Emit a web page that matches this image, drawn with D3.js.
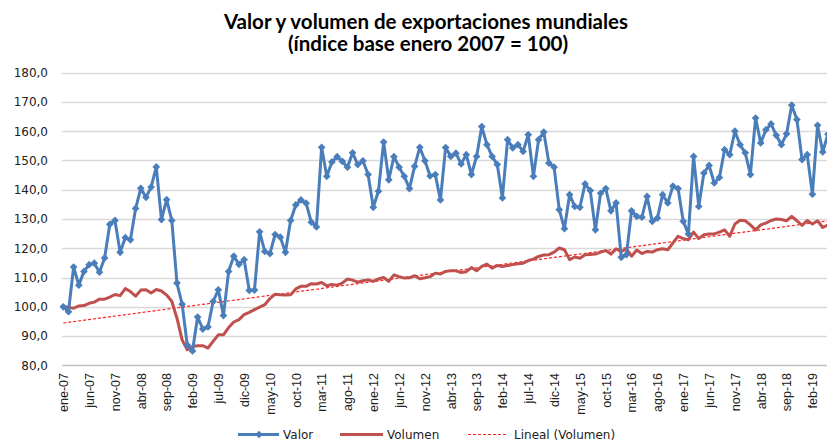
<!DOCTYPE html>
<html>
<head>
<meta charset="utf-8">
<script src="https://cdn.jsdelivr.net/npm/d3@7"></script>
<style>
  body { margin: 0; background: #fff; }
  svg { display: block; }
</style>
</head>
<body>
<div id="chart"></div>
<script>
// months in spanish, used to build the category labels ene-07 ... may-19
const monthNames = ["ene", "feb", "mar", "abr", "may", "jun", "jul", "ago", "sep", "oct", "nov", "dic"];

const valor = [
  100.0, 98.3, 113.6, 107.4, 112.1, 114.4, 114.9, 111.8, 116.7, 128.2, 129.5, 118.6,
  123.6, 122.9, 133.6, 140.5, 137.4, 140.9, 147.8, 129.8, 136.6, 129.5, 108.1, 100.9,
  86.9, 84.9, 96.5, 92.4, 93.1, 101.8, 105.8, 97.0, 112.1, 117.3, 114.5, 116.1,
  105.6, 105.7, 125.6, 118.9, 118.2, 124.7, 123.8, 118.6, 129.5, 134.8, 136.5, 135.4,
  128.9, 127.3, 154.5, 144.6, 149.5, 151.3, 149.7, 147.7, 152.6, 148.6, 149.9, 145.2,
  134.0, 139.5, 156.3, 143.4, 151.3, 147.7, 144.6, 140.4, 148.0, 154.5, 149.9, 144.7,
  145.2, 136.5, 154.4, 151.4, 152.5, 148.8, 152.0, 145.2, 151.4, 161.6, 155.4, 151.4,
  148.6, 137.2, 157.1, 154.3, 155.4, 153.1, 158.8, 144.6, 157.1, 159.7, 149.1, 147.7,
  133.2, 126.7, 138.3, 134.3, 134.0, 142.0, 139.7, 126.3, 138.8, 140.4, 132.8, 135.5,
  116.9, 117.8, 132.8, 130.9, 130.6, 137.7, 129.2, 130.3, 138.3, 135.5, 141.2, 140.4,
  129.2, 124.9, 151.4, 134.3, 145.7, 148.3, 142.3, 144.2, 153.7, 152.0, 160.0, 155.4,
  152.6, 145.2, 164.5, 156.0, 160.5, 162.5, 158.6, 155.4, 159.1, 168.9, 164.0, 150.3,
  152.0, 138.5, 162.0, 152.9, 159.0
];

const volumen = [
  100.0, 99.8, 99.5, 100.3, 100.4, 101.2, 101.6, 102.6, 102.6, 103.3, 104.2, 103.8,
  106.2, 105.2, 103.6, 105.7, 105.8, 104.7, 105.9, 105.4, 104.0, 101.9, 96.1, 88.7,
  85.3, 86.4, 86.7, 86.7, 85.9, 88.2, 90.4, 90.4, 92.9, 94.8, 95.6, 97.3,
  98.1, 99.0, 99.9, 100.7, 102.8, 104.3, 104.1, 104.0, 104.1, 106.1, 107.0, 107.0,
  107.9, 107.8, 108.3, 107.2, 107.6, 107.4, 108.1, 109.5, 109.1, 108.4, 108.9, 109.2,
  108.7, 109.5, 110.0, 108.7, 110.9, 110.3, 109.8, 109.9, 110.6, 109.6, 109.9, 110.3,
  111.5, 111.2, 112.1, 112.3, 112.3, 111.7, 112.0, 113.4, 112.3, 113.8, 114.6, 113.2,
  114.1, 113.8, 114.1, 114.4, 114.7, 114.9, 115.8, 116.3, 117.2, 117.7, 117.8, 118.7,
  120.1, 119.5, 116.1, 117.0, 116.6, 117.8, 117.9, 118.0, 118.7, 119.2, 118.0, 119.8,
  118.9, 119.8, 117.3, 119.4, 118.2, 118.9, 118.7, 119.5, 119.8, 119.5, 121.8, 124.1,
  123.3, 122.9, 125.5, 123.3, 124.6, 124.9, 124.9, 125.5, 126.3, 124.1, 128.3, 129.6,
  129.4, 128.0, 126.3, 128.0, 128.6, 129.5, 130.0, 129.8, 129.4, 130.9, 129.4, 127.8,
  129.5, 128.3, 129.4, 127.1, 128.0
];

const yTicks = [80, 90, 100, 110, 120, 130, 140, 150, 160, 170, 180];

// category labels, one per month from ene-07
const categories = valor.map((d, i) =>
  monthNames[i % 12] + "-" + String(7 + Math.floor(i / 12)).padStart(2, "0"));
const xTickLabels = categories.filter((d, i) => i % 5 === 0);

const width = 827;
const height = 441;

const svg = d3.select("#chart")
  .append("svg")
  .attr("width", width)
  .attr("height", height);

// scales
const xScale = d3.scalePoint()
  .domain(categories)
  .range([63.3, 827.9]);

const yScale = d3.scaleLinear()
  .domain([80, 180])
  .range([365.3, 72.7]);

// gridlines
svg.append("g")
  .selectAll("line")
  .data(yTicks)
  .enter()
  .append("line")
  .attr("x1", 62)
  .attr("x2", width)
  .attr("y1", (d) => Math.round(yScale(d)) + 0.5)
  .attr("y2", (d) => Math.round(yScale(d)) + 0.5)
  .attr("stroke", (d) => d === 80 ? "#bfbfbf" : "#d9d9d9")
  .attr("stroke-width", 1.3);

// y axis labels
const yAxis = d3.axisLeft(yScale)
  .tickValues(yTicks)
  .tickSize(0)
  .tickPadding(0)
  .tickFormat((d) => d3.format(".1f")(d).replace(".", ","));

svg.append("g")
  .attr("transform", "translate(48,0)")
  .call(yAxis)
  .call((g) => g.select(".domain").remove())
  .selectAll("text")
  .attr("font-family", "DejaVu Sans, sans-serif")
  .attr("font-size", "12px")
  .attr("fill", "#222");

// x axis labels
const xAxis = d3.axisBottom(xScale)
  .tickValues(xTickLabels)
  .tickSize(0);

svg.append("g")
  .attr("transform", "translate(0,365)")
  .call(xAxis)
  .call((g) => g.select(".domain").remove())
  .selectAll("text")
  .attr("font-family", "Liberation Sans, Arial, sans-serif")
  .attr("font-size", "12.5px")
  .attr("fill", "#222")
  .attr("text-anchor", "end")
  .attr("transform", "rotate(-90)")
  .attr("x", -8)
  .attr("y", 0)
  .attr("dy", "0.35em");

// trend line (least squares on volumen)
const n = volumen.length;
const mx = d3.mean(volumen, (d, i) => i);
const my = d3.mean(volumen);
const slope = d3.sum(volumen, (d, i) => (i - mx) * (d - my)) / d3.sum(volumen, (d, i) => (i - mx) * (i - mx));
const icpt = my - slope * mx;

const trendLine = d3.line()
  .x((d) => xScale(categories[d]))
  .y((d) => yScale(icpt + slope * d));

svg.append("path")
  .datum([0, n - 1])
  .attr("d", trendLine)
  .attr("fill", "none")
  .attr("stroke", "#ff2020")
  .attr("stroke-width", 1.2)
  .attr("stroke-dasharray", "3,2");

// series lines
const line = d3.line()
  .x((d, i) => xScale(categories[i]))
  .y((d) => yScale(d));

svg.append("path")
  .datum(volumen)
  .attr("d", line)
  .attr("fill", "none")
  .attr("stroke", "#c0504d")
  .attr("stroke-width", 3)
  .attr("stroke-linejoin", "round");

svg.append("path")
  .datum(valor)
  .attr("d", line)
  .attr("fill", "none")
  .attr("stroke", "#4a7ebb")
  .attr("stroke-width", 3)
  .attr("stroke-linejoin", "round");

const diamond = d3.symbol().type(d3.symbolDiamond2).size(38);

svg.append("g")
  .selectAll("path")
  .data(valor)
  .enter()
  .append("path")
  .attr("d", diamond)
  .attr("transform", (d, i) => "translate(" + xScale(categories[i]) + "," + yScale(d) + ")")
  .attr("fill", "#4a7ebb");

// title
const title = svg.append("text")
  .attr("text-anchor", "middle")
  .attr("font-family", "Lato, Open Sans, sans-serif")
  .attr("font-weight", "bold")
  .attr("font-size", "20.5px")
  .attr("fill", "#000");
title.append("tspan").attr("x", 426).attr("y", 29).text("Valor y volumen de exportaciones mundiales");
title.append("tspan").attr("x", 428).attr("y", 51).text("(índice base enero 2007 = 100)");

// legend
const legend = svg.append("g")
  .attr("font-family", "DejaVu Sans, sans-serif")
  .attr("font-size", "12px")
  .attr("fill", "#222");

legend.append("line")
  .attr("x1", 238).attr("x2", 279).attr("y1", 434.5).attr("y2", 434.5)
  .attr("stroke", "#4a7ebb").attr("stroke-width", 3);
legend.append("path")
  .attr("d", diamond)
  .attr("transform", "translate(259,434.5)")
  .attr("fill", "#4a7ebb");
legend.append("text").attr("x", 283).attr("y", 438.5).text("Valor");

legend.append("line")
  .attr("x1", 340).attr("x2", 383).attr("y1", 434.5).attr("y2", 434.5)
  .attr("stroke", "#c0504d").attr("stroke-width", 3);
legend.append("text").attr("x", 387).attr("y", 438.5).text("Volumen");

legend.append("line")
  .attr("x1", 468).attr("x2", 506).attr("y1", 434.5).attr("y2", 434.5)
  .attr("stroke", "#ff2020").attr("stroke-width", 1.2).attr("stroke-dasharray", "3,2");
legend.append("text").attr("x", 514).attr("y", 438.5).text("Lineal (Volumen)");
</script>
</body>
</html>
